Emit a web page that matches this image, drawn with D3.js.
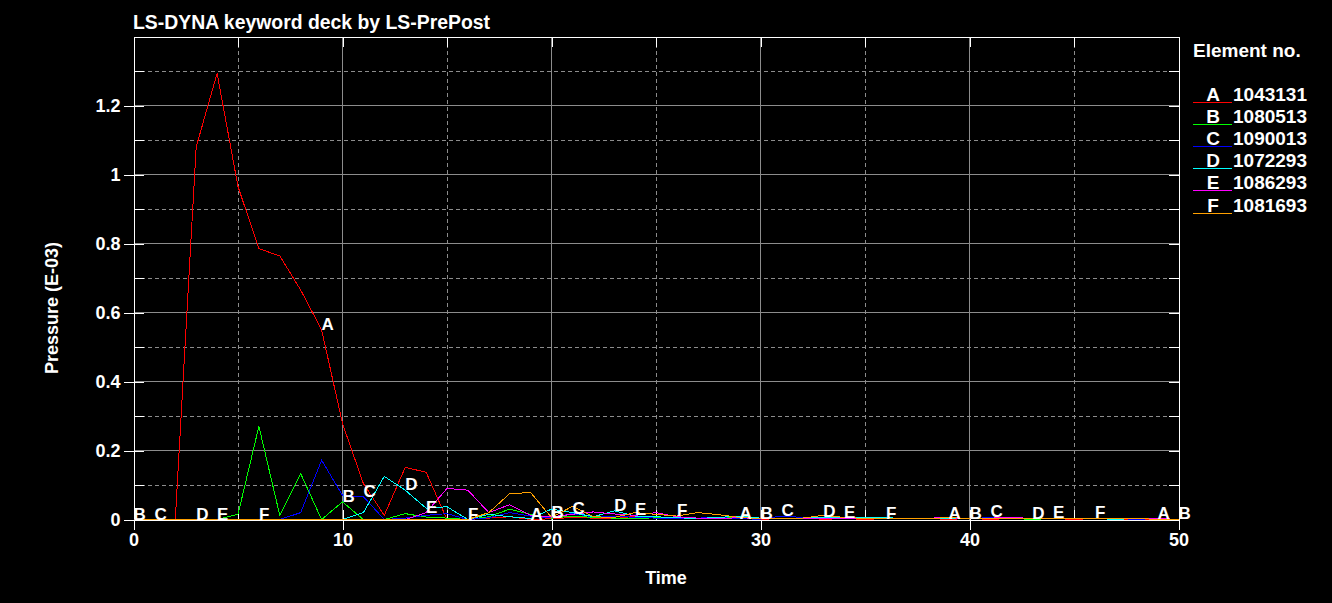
<!DOCTYPE html>
<html>
<head>
<meta charset="utf-8">
<script src="https://cdn.jsdelivr.net/npm/d3@7"></script>
<style>
  html, body { margin: 0; padding: 0; background: #000; }
  svg { display: block; }
  text { font-family: "Liberation Sans", Arial, sans-serif; font-weight: bold; fill: #fff; }
</style>
</head>
<body>
<svg id="chart" width="1332" height="603"></svg>
<script>
// ---------- data ----------
const times = d3.range(0, 51); // 0..50
const seriesNames = ["A", "B", "C", "D", "E", "F"];
const elementIds = ["1043131", "1080513", "1090013", "1072293", "1086293", "1081693"];
const seriesColors = ["#ff0000", "#00ff00", "#0000ff", "#00ffff", "#ff00ff", "#ffa000"];

const seriesA = [0, 0, 0, 1.08, 1.293, 0.965, 0.785, 0.764, 0.665, 0.55, 0.278, 0.104, 0.012, 0.151, 0.137, 0,
  0, 0.004, 0.008, 0, 0.002, 0.006, 0.004, 0.002, 0.01, 0.006, 0.004, 0.002, 0.005, 0.002, 0.001,
  0.002, 0.003, 0.001, 0.002, 0.001, 0.002, 0.003, 0.002, 0.001, 0.002, 0.001, 0.002, 0.001, 0.002, 0.001, 0.002, 0.001, 0.001, 0.001, 0.001];
const seriesB = [0, 0, 0, 0, 0, 0.015, 0.27, 0.012, 0.133, 0, 0.051, 0, 0, 0.017, 0.007, 0.004,
  0, 0.008, 0.03, 0.015, 0.004, 0.01, 0.006, 0.004, 0.003, 0.005, 0.003, 0.002, 0.004, 0.006, 0.002,
  0.003, 0.002, 0.004, 0.002, 0.003, 0.002, 0.004, 0.002, 0.003, 0.002, 0.003, 0.002, 0.001, 0.002, 0.003, 0.002, 0.001, 0.002, 0.001, 0.001];
const seriesC = [0, 0, 0, 0, 0, 0, 0, 0, 0.02, 0.172, 0.07, 0.066, 0, 0.004, 0.012, 0.017,
  0, 0.005, 0.02, 0.01, 0.005, 0.017, 0.008, 0.01, 0.006, 0.004, 0.002, 0.004, 0.006, 0.002, 0.001,
  0.01, 0.006, 0.004, 0.003, 0.002, 0.004, 0.003, 0.002, 0.003, 0.002, 0.006, 0.003, 0.002, 0.003, 0.002, 0.004, 0.002, 0.001, 0.002, 0.001];
const seriesD = [0, 0, 0, 0, 0, 0, 0, 0, 0, 0, 0, 0.02, 0.125, 0.085, 0.033, 0.037,
  0, 0.015, 0.008, 0.003, 0.03, 0.02, 0.008, 0.025, 0.01, 0.008, 0.005, 0.003, 0.006, 0.01, 0.004,
  0.003, 0.004, 0.006, 0.004, 0.006, 0.005, 0.003, 0.004, 0.002, 0.004, 0.002, 0.003, 0.002, 0.003, 0.002, 0.002, 0.001, 0.002, 0.001, 0.001];
const seriesE = [0, 0, 0, 0, 0, 0, 0, 0, 0, 0, 0, 0, 0, 0, 0.02, 0.09,
  0.085, 0.02, 0.043, 0.012, 0.008, 0.015, 0.022, 0.016, 0.012, 0.02, 0.008, 0.004, 0.003, 0.005, 0.003,
  0.004, 0.002, 0.004, 0.003, 0.002, 0.003, 0.002, 0.004, 0.005, 0.003, 0.004, 0.006, 0.003, 0.004, 0.002, 0.003, 0.002, 0.003, 0.002, 0.001];
const seriesF = [0, 0, 0, 0, 0, 0, 0, 0, 0, 0, 0, 0, 0, 0, 0, 0,
  0, 0.02, 0.075, 0.078, 0.006, 0.038, 0.008, 0.006, 0.02, 0.015, 0.01, 0.02, 0.014, 0.006, 0.003,
  0.002, 0.004, 0.012, 0.006, 0.003, 0.002, 0.003, 0.002, 0.006, 0.003, 0.002, 0.004, 0.002, 0.003, 0.002, 0.003, 0.002, 0.002, 0.001, 0.001];
const seriesValues = [seriesA, seriesB, seriesC, seriesD, seriesE, seriesF];

// time indices where the curve letters are written
const labelTimes = [
  [9, 19, 29, 39, 49],
  [0, 10, 20, 30, 40, 50],
  [1, 11, 21, 31, 41],
  [3, 13, 23, 33, 43],
  [4, 14, 24, 34, 44],
  [6, 16, 26, 36, 46]
];

const yMajorTicks = [0, 0.2, 0.4, 0.6, 0.8, 1, 1.2];
const yMinorTicks = [0.1, 0.3, 0.5, 0.7, 0.9, 1.1, 1.3];
const xMajorTicks = [0, 10, 20, 30, 40, 50];
const xMinorTicks = [5, 15, 25, 35, 45];

const titleText = "LS-DYNA keyword deck by LS-PrePost";
const xTitle = "Time";
const yTitle = "Pressure (E-03)";
const legendTitle = "Element no.";

// ---------- layout ----------
const L = 133.5, R = 1178.5, T = 36.5, B = 519.5;
const x = d3.scaleLinear().domain([0, 50]).range([L, R]);
const y = d3.scaleLinear().domain([0, 1.4]).range([B, T]);

const svg = d3.select("#chart");
svg.append("rect").attr("width", 1332).attr("height", 603).attr("fill", "#000");

// gridlines
const grid = svg.append("g").attr("shape-rendering", "crispEdges");
grid.selectAll(".gmy").data(yMajorTicks.filter(d => d > 0)).join("line")
  .attr("x1", L).attr("x2", R).attr("y1", d => y(d)).attr("y2", d => y(d))
  .attr("stroke", "#8c8c8c").attr("stroke-width", 1);
grid.selectAll(".gny").data(yMinorTicks).join("line")
  .attr("x1", L).attr("x2", R).attr("y1", d => y(d)).attr("y2", d => y(d))
  .attr("stroke", "#8c8c8c").attr("stroke-width", 1).attr("stroke-dasharray", "4,3");
grid.selectAll(".gmx").data(xMajorTicks.filter(d => d > 0 && d < 50)).join("line")
  .attr("x1", d => x(d)).attr("x2", d => x(d)).attr("y1", T).attr("y2", B)
  .attr("stroke", "#8c8c8c").attr("stroke-width", 1);
grid.selectAll(".gnx").data(xMinorTicks).join("line")
  .attr("x1", d => x(d)).attr("x2", d => x(d)).attr("y1", T).attr("y2", B)
  .attr("stroke", "#8c8c8c").attr("stroke-width", 1).attr("stroke-dasharray", "4,3");

// frame and axes
function styleAxis(g) {
  g.attr("shape-rendering", "crispEdges");
  g.selectAll("path").attr("stroke", "#fff");
  g.selectAll("line").attr("stroke", "#fff");
  g.selectAll("text").attr("fill", "#fff").attr("font-size", 18)
    .attr("font-family", "'Liberation Sans', Arial, sans-serif").attr("font-weight", "bold");
}
const gyl = svg.append("g").attr("transform", `translate(${L},0)`)
  .call(d3.axisLeft(y).tickValues(yMajorTicks).tickFormat(d3.format("~g")).tickSizeInner(10).tickSizeOuter(0).tickPadding(3));
gyl.selectAll(".tick line").attr("x1", 10);
styleAxis(gyl);
gyl.selectAll("text").attr("dy", "0.36em");
const gylm = svg.append("g").attr("transform", `translate(${L},0)`)
  .call(d3.axisLeft(y).tickValues(yMinorTicks).tickFormat("").tickSizeInner(-10).tickSizeOuter(0));
styleAxis(gylm); gylm.select("path").remove();
const gyr = svg.append("g").attr("transform", `translate(${R},0)`)
  .call(d3.axisRight(y).tickValues(yMajorTicks.concat(yMinorTicks)).tickFormat("").tickSizeInner(-10).tickSizeOuter(0));
styleAxis(gyr);
const gxb = svg.append("g").attr("transform", `translate(0,${B})`)
  .call(d3.axisBottom(x).tickValues(xMajorTicks).tickFormat(d3.format("d")).tickSizeInner(10).tickSizeOuter(0).tickPadding(4));
gxb.selectAll(".tick line").attr("y1", -10);
styleAxis(gxb);
const gxbm = svg.append("g").attr("transform", `translate(0,${B})`)
  .call(d3.axisBottom(x).tickValues(xMinorTicks).tickFormat("").tickSizeInner(-10).tickSizeOuter(0));
styleAxis(gxbm); gxbm.select("path").remove();
const gxt = svg.append("g").attr("transform", `translate(0,${T})`)
  .call(d3.axisTop(x).tickValues(xMajorTicks.concat(xMinorTicks)).tickFormat("").tickSizeInner(-10).tickSizeOuter(0));
styleAxis(gxt);

// series lines (drawn over the axes, as in the reference)
const line = d3.line().x((d, i) => x(times[i])).y(d => y(d));
svg.append("g").selectAll("path").data(seriesValues).join("path")
  .attr("d", d => line(d))
  .attr("fill", "none")
  .attr("stroke", (d, i) => seriesColors[i])
  .attr("stroke-width", 1)
  .attr("shape-rendering", "crispEdges");

// curve letters
const labelData = [];
labelTimes.forEach((ts, si) => ts.forEach(t => labelData.push({ s: si, t: t, v: seriesValues[si][t] })));
svg.append("g").selectAll("text").data(labelData).join("text")
  .attr("x", d => x(d.t))
  .attr("y", d => y(d.v))
  .attr("font-size", 17)
  .text(d => seriesNames[d.s]);

// titles
svg.append("text").attr("x", 133).attr("y", 29).attr("font-size", 19.4).text(titleText);
svg.append("text").attr("x", 666).attr("y", 584).attr("text-anchor", "middle").attr("font-size", 18).text(xTitle);
svg.append("text").attr("transform", "translate(58,308) rotate(-90)")
  .attr("text-anchor", "middle").attr("font-size", 18).text(yTitle);

// legend
svg.append("text").attr("x", 1193).attr("y", 57).attr("font-size", 19).text(legendTitle);
const leg = svg.append("g");
const rowY = i => 102 + i * 22.1;
leg.selectAll("line").data(seriesNames).join("line")
  .attr("x1", 1193).attr("x2", 1232)
  .attr("y1", (d, i) => Math.round(rowY(i)) + 0.5).attr("y2", (d, i) => Math.round(rowY(i)) + 0.5)
  .attr("stroke", (d, i) => seriesColors[i]).attr("stroke-width", 1)
  .attr("shape-rendering", "crispEdges");
leg.selectAll(".ll").data(seriesNames).join("text").attr("class", "ll")
  .attr("x", 1213).attr("y", (d, i) => rowY(i) - 1).attr("text-anchor", "middle").attr("font-size", 19)
  .text(d => d);
leg.selectAll(".ln").data(elementIds).join("text").attr("class", "ln")
  .attr("x", 1233).attr("y", (d, i) => rowY(i) - 1).attr("font-size", 19)
  .text(d => d);
</script>
</body>
</html>
